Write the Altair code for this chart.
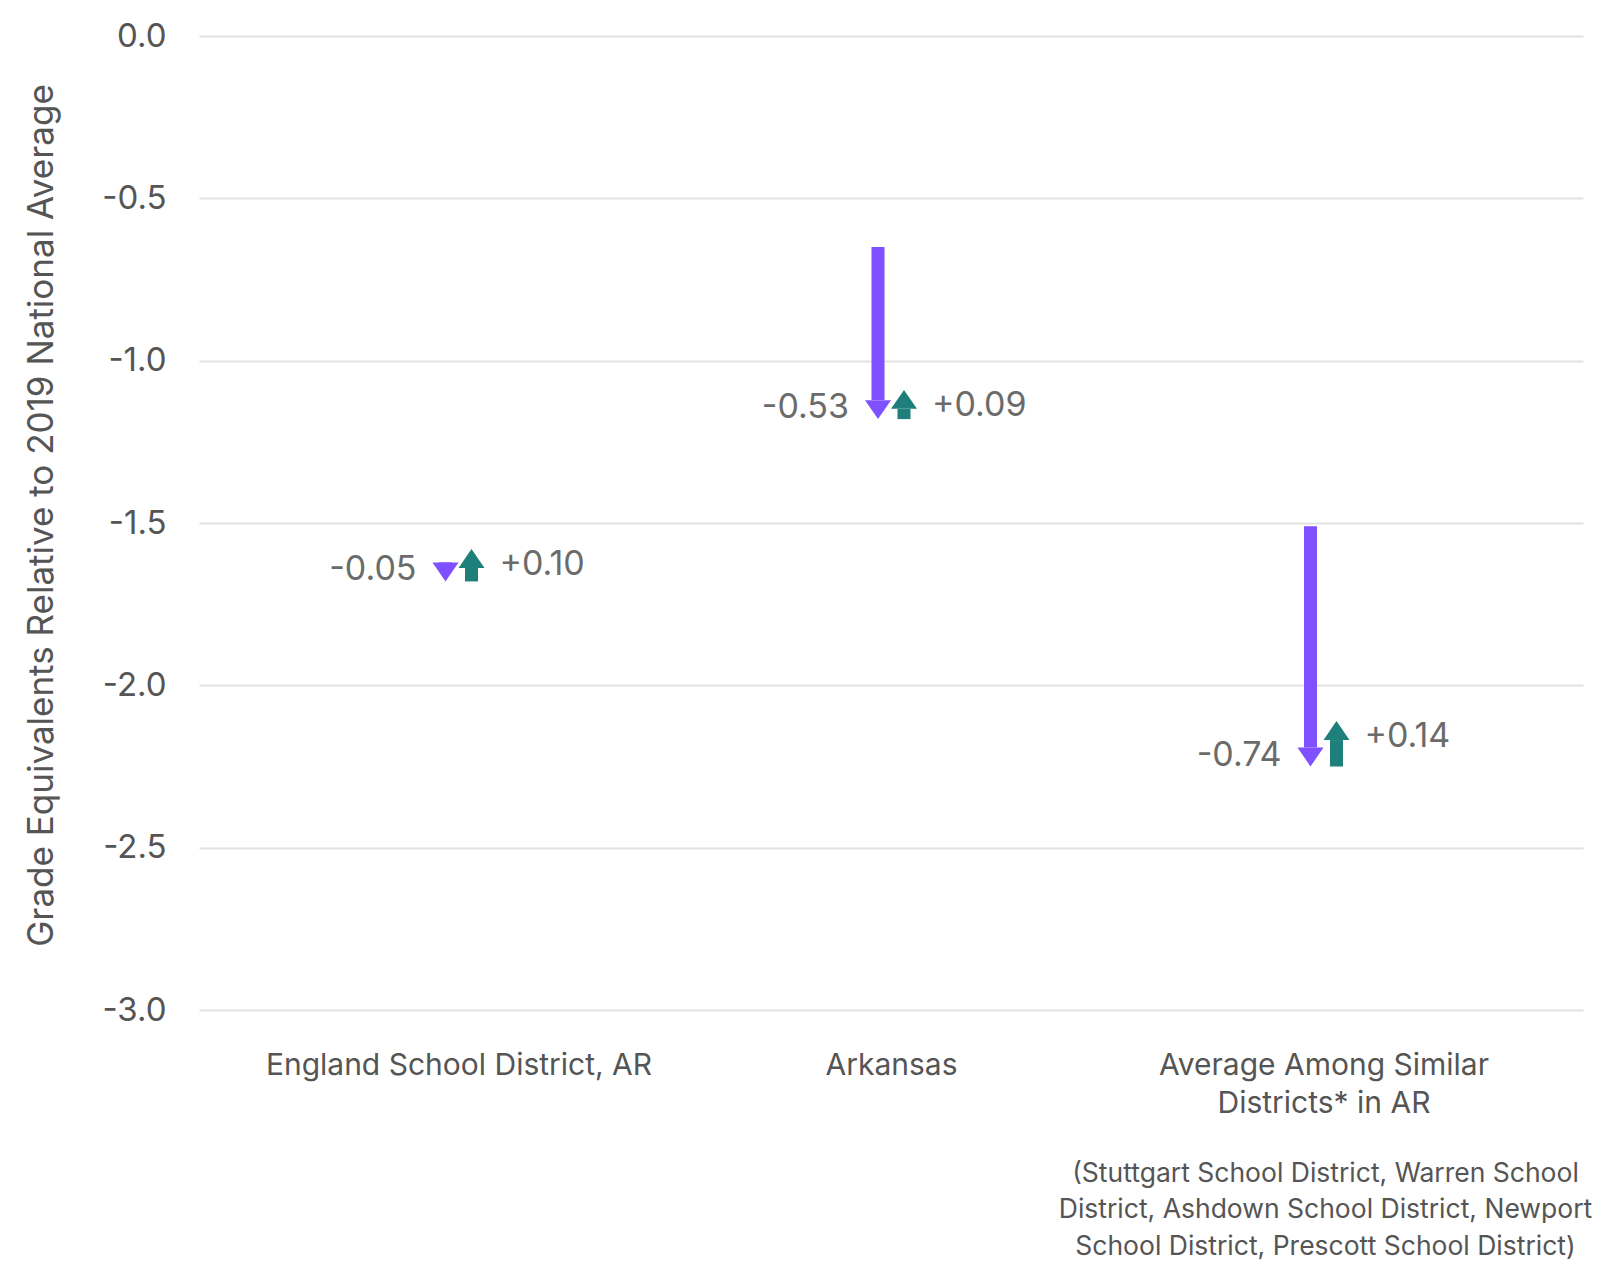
import altair as alt
import pandas as pd

# ---- data ----
categories = ["England School District, AR", "Arkansas", "Average Among Similar|Districts* in AR"]
start_values = [-1.63, -0.65, -1.51]      # level before the decline (arrow start)
purple_end = [-1.68, -1.18, -2.25]        # after decline
teal_end = [-1.58, -1.09, -2.11]          # after recovery
purple_labels = ["-0.05", "-0.53", "-0.74"]
teal_labels = ["+0.10", "+0.09", "+0.14"]
y_ticks = [0.0, -0.5, -1.0, -1.5, -2.0, -2.5, -3.0]
y_title = "Grade Equivalents Relative to 2019 National Average"
footnote = [
    "(Stuttgart School District, Warren School",
    "District, Ashdown School District, Newport",
    "School District, Prescott School District)",
]

PURPLE = "#7F50FF"
TEAL = "#1F7F7A"
FONT = "Inter"
GREY = "#555555"

df = pd.DataFrame({
    "category": categories,
    "start": start_values,
    "p_end": purple_end,
    "t_end": teal_end,
    "p_label": purple_labels,
    "t_label": teal_labels,
})

x_enc = alt.X(
    "category:N",
    sort=categories,
    scale=alt.Scale(type="point", padding=0.6),
    axis=alt.Axis(
        labelExpr="split(datum.label, '|')",
        labelFont=FONT, labelFontSize=30, labelColor=GREY, labelLimit=1000,
        labelLineHeight=38, labelPadding=40, labelAngle=0,
        domain=False, ticks=False, tickSize=0, grid=False,
        title=footnote, titleFont=FONT, titleFontSize=26.5,
        titleFontWeight="normal", titleColor=GREY,
        titleLineHeight=36.5, titleAlign="center", titleBaseline="alphabetic",
        titleX=1126, titleY=171,
    ),
)

y_scale = alt.Scale(domain=[-3, 0], nice=False, zero=False)
y_axis = alt.Axis(
    values=y_ticks,
    labelExpr="replace(format(datum.value, '.1f'), '\u2212', '-')",
    title=y_title,
    labelFont=FONT, labelFontSize=33, labelColor=GREY, labelPadding=33,
    domain=False, ticks=False, tickSize=0,
    grid=True, gridColor="#e2e2e2", gridWidth=2,
    titleFont=FONT, titleFontSize=35, titleFontWeight="normal",
    titleColor=GREY, titlePadding=42, titleY=479,
)


def Y(field):
    return alt.Y(f"{field}:Q", scale=y_scale, axis=y_axis)


base = alt.Chart(df)

purple_shaft = base.mark_rule(color=PURPLE, strokeWidth=13, strokeCap="butt",
                              xOffset=-13, y2Offset=-19).encode(
    x=x_enc, y=Y("start"), y2="p_end:Q")
purple_head = base.mark_point(shape="M-1,-1.46L1,-1.46L0,0Z", size=676, filled=True,
                              color=PURPLE, opacity=1, strokeWidth=0,
                              xOffset=-13).encode(x=x_enc, y=Y("p_end"))

teal_shaft = base.mark_rule(color=TEAL, strokeWidth=13, strokeCap="butt",
                            xOffset=13, y2Offset=19).encode(
    x=x_enc, y=Y("p_end"), y2="t_end:Q")
teal_head = base.mark_point(shape="M-1,1.46L1,1.46L0,0Z", size=676, filled=True,
                            color=TEAL, opacity=1, strokeWidth=0,
                            xOffset=13).encode(x=x_enc, y=Y("t_end"))

purple_text = base.mark_text(align="right", baseline="middle", dx=-42, dy=-11,
                             font=FONT, fontSize=34, color="#6b6b6b").encode(
    x=x_enc, y=Y("p_end"), text="p_label:N")
teal_text = base.mark_text(align="left", baseline="middle", dx=41, dy=16,
                           font=FONT, fontSize=34, color="#6b6b6b").encode(
    x=x_enc, y=Y("t_end"), text="t_label:N")

chart = alt.layer(
    purple_shaft, purple_head, teal_shaft, teal_head, purple_text, teal_text
).properties(
    width=1384, height=974,
    background="white",
    autosize=alt.AutoSizeParams(type="none"),
    padding={"left": 191, "top": 28, "right": 12, "bottom": 253},
).configure_view(strokeWidth=0, stroke="transparent")

chart.save("out.html", embed_options={"renderer": "svg", "actions": False})
